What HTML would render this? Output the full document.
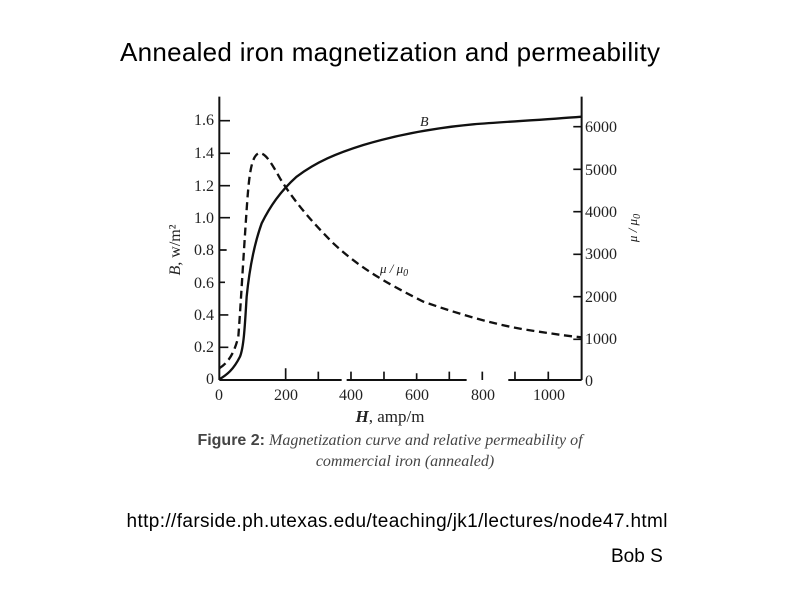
<!DOCTYPE html>
<html><head><meta charset="utf-8"><style>
html,body{margin:0;padding:0;background:#fff;width:800px;height:600px;overflow:hidden}
</style></head><body>
<svg width="800" height="600" viewBox="0 0 800 600" xmlns="http://www.w3.org/2000/svg">
<text x="390" y="61" font-family="Liberation Sans, sans-serif" font-size="26" text-anchor="middle" fill="#000" textLength="540">Annealed iron magnetization and permeability</text>
<g transform="translate(190,90) scale(0.3333)" fill="none" stroke="#111">
<line x1="88" y1="20" x2="88" y2="870" stroke-width="6"/>
<line x1="1175" y1="20" x2="1175" y2="870" stroke-width="6"/>
<path d="M88 870H455 M470 870H830 M955 870H1175" stroke-width="6"/>
<g stroke-width="5">
<path d="M88 92H120 M88 190H120 M88 287H120 M88 383H120 M88 480H110 M88 577H105 M88 675H115 M88 772H115"/>
<path d="M1150 110H1175 M1150 238H1175 M1150 365H1175 M1150 493H1175 M1150 620H1175 M1150 748H1175"/>
<path d="M287 870V835 M385 870V845 M483 870V845 M582 870V845 M680 870V850 M778 870V845 M877 870V845 M975 870V845 M1075 870V845"/>
</g>
<path d="M88 868 C110 855 130 840 150 800 C162 770 165 700 170 620 C178 540 190 470 215 400 C240 350 270 305 320 260 C380 215 440 190 520 165 C620 135 720 115 850 103 C950 95 1050 90 1175 80" stroke-width="7"/>
<path d="M88 835 C110 820 130 800 145 740 C152 650 160 500 172 330 C178 250 185 200 205 190 C225 185 245 220 270 265 C310 330 360 390 430 460 C500 525 570 570 700 635 C800 670 900 700 1000 718 C1080 730 1130 738 1175 742" stroke-width="7" stroke-dasharray="24,14"/>
</g>
<g font-family="Liberation Serif, serif" font-size="16" fill="#222">
<g text-anchor="end">
<text x="214" y="125">1.6</text><text x="214" y="158">1.4</text><text x="214" y="191">1.2</text><text x="214" y="223">1.0</text><text x="214" y="255">0.8</text><text x="214" y="288">0.6</text><text x="214" y="320">0.4</text><text x="214" y="352">0.2</text><text x="214" y="384">0</text>
</g>
<g text-anchor="start">
<text x="585" y="132">6000</text><text x="585" y="175">5000</text><text x="585" y="217">4000</text><text x="585" y="259">3000</text><text x="585" y="302">2000</text><text x="585" y="344">1000</text><text x="585" y="386">0</text>
</g>
<g text-anchor="middle">
<text x="219" y="400">0</text><text x="286" y="400">200</text><text x="351" y="400">400</text><text x="417" y="400">600</text><text x="483" y="400">800</text><text x="549" y="400">1000</text>
</g>
<text x="390" y="422" text-anchor="middle" font-size="17"><tspan font-style="italic" font-weight="bold">H</tspan>, amp/m</text>
<text x="420" y="126" font-style="italic" font-size="14">B</text>
<text x="380" y="273" font-style="italic" font-size="13">μ / μ<tspan font-size="10" dy="3">0</tspan></text>
<text transform="translate(180,250) rotate(-90)" text-anchor="middle"><tspan font-style="italic">B</tspan>, w/m²</text>
<text transform="translate(637,228) rotate(-90)" text-anchor="middle" font-size="13" font-style="italic">μ / μ<tspan font-size="10" dy="3">0</tspan></text>
</g>
<text x="390" y="445" text-anchor="middle" font-family="Liberation Serif, serif" font-size="16" fill="#444"><tspan font-weight="bold" font-family="Liberation Sans, sans-serif">Figure 2:</tspan> <tspan font-style="italic">Magnetization curve and relative permeability of</tspan></text>
<text x="405" y="466" text-anchor="middle" font-family="Liberation Serif, serif" font-size="16" font-style="italic" fill="#444">commercial iron (annealed)</text>
<text x="397" y="527" text-anchor="middle" font-family="Liberation Sans, sans-serif" font-size="19" fill="#000" textLength="541">http://farside.ph.utexas.edu/teaching/jk1/lectures/node47.html</text>
<text x="611" y="562" font-family="Liberation Sans, sans-serif" font-size="19" fill="#000">Bob S</text>
</svg>
</body></html>
